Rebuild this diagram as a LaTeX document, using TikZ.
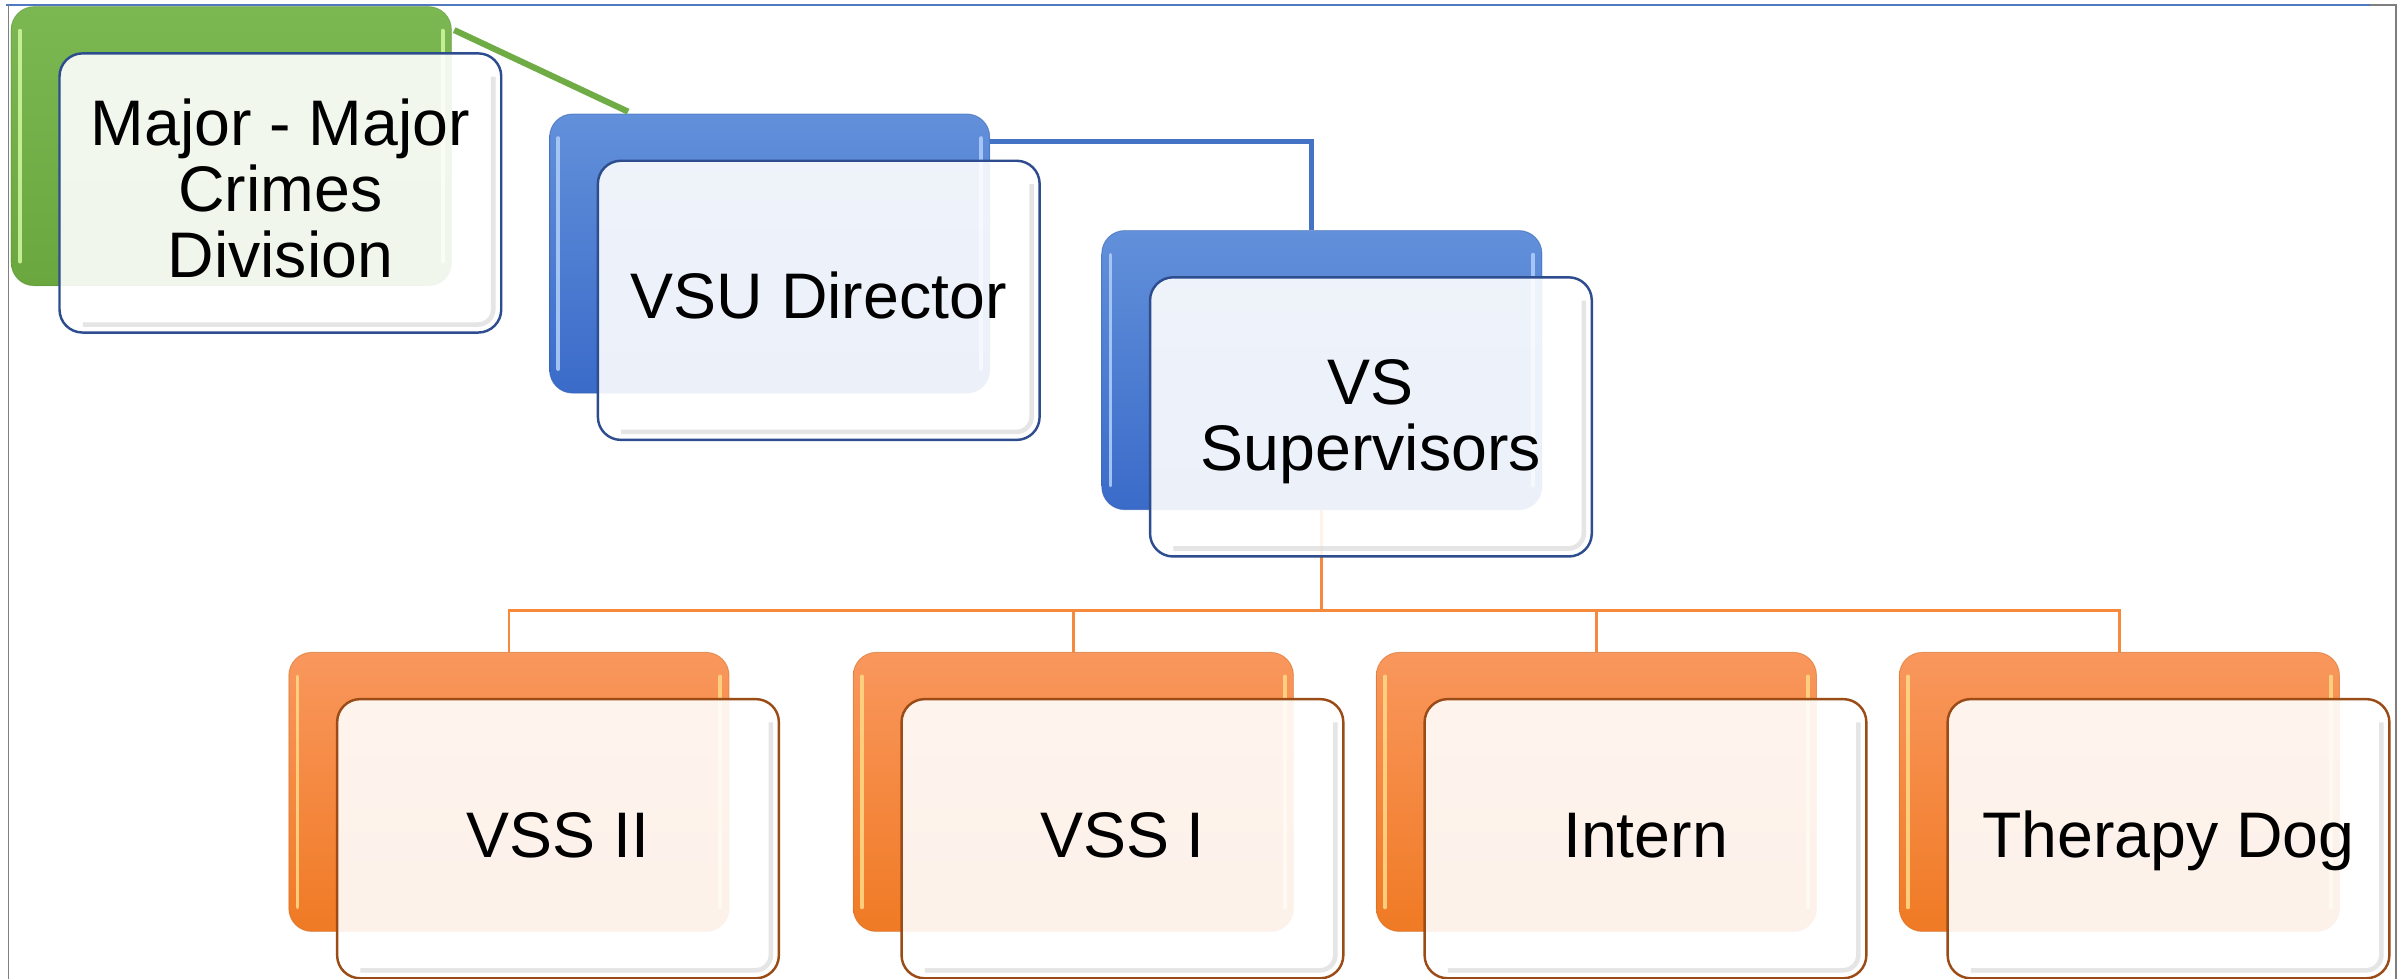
\documentclass[tikz,border=0pt]{standalone}
\usepackage{fontspec}
\setmainfont{Liberation Sans}
\usetikzlibrary{calc}
\definecolor{grnT}{HTML}{7CB852}
\definecolor{grnB}{HTML}{6AA73E}
\definecolor{grnHL}{HTML}{CDF59E}
\definecolor{bluT}{HTML}{6290DA}
\definecolor{bluB}{HTML}{3A6BC9}
\definecolor{bluHL}{HTML}{ADCCF8}
\definecolor{orgT}{HTML}{F9975D}
\definecolor{orgB}{HTML}{F07A24}
\definecolor{orgHL}{HTML}{FFD684}
\definecolor{frontblue}{HTML}{2D4D8E}
\definecolor{frontbrown}{HTML}{9A4B16}
\definecolor{cgreen}{HTML}{6FAC46}
\definecolor{cblue}{HTML}{4472C4}
\definecolor{corange}{HTML}{F7893C}
\definecolor{framebl}{HTML}{5079BF}
\definecolor{framegr}{HTML}{7F7F7F}
\newcommand\hlback[3]{%
  \draw[hlstyle,#2] ($(#1.north west)+(6,-16)$) -- ($(#1.south west)+(6,16)$);
  \draw[hlstyle,#3] ($(#1.north east)+(-6,-16)$) -- ($(#1.south east)+(-6,16)$);
}
\newcommand\rimfront[1]{%
  \draw[rim] ($(#1.north east)+(-6,-16)$) -- ($(#1.south east)+(-6,6)$) -- ($(#1.south west)+(16,6)$);
}
\begin{document}
\begin{tikzpicture}[x=1pt,y=1pt,
  backbox/.style={rectangle, rounded corners=15pt, minimum width=287pt, minimum height=182pt,
    anchor=north west, inner sep=0pt, line width=0.6pt},
  greenback/.style={backbox, top color=grnT, bottom color=grnB, draw=grnB!85!black, draw opacity=0.5},
  blueback/.style={backbox, top color=bluT, bottom color=bluB, draw=bluB!85!black, draw opacity=0.5},
  orangeback/.style={backbox, top color=orgT, bottom color=orgB, draw=orgB!85!black, draw opacity=0.5},
  hlstyle/.style={line width=2.4pt, opacity=0.9, line cap=round},
  frontbox/.style={rectangle, rounded corners=15pt, minimum width=288pt, minimum height=182pt,
    anchor=north west, inner sep=0pt, fill=white, fill opacity=0.9, text opacity=1,
    line width=1.6pt, font=\fontsize{42}{43}\selectfont},
  bluefront/.style={frontbox, draw=frontblue},
  orangefront/.style={frontbox, draw=frontbrown},
  oneline/.style={text height=27pt, text depth=3pt},
  multiline/.style={align=center},
  rim/.style={draw=black!13, line width=3pt, opacity=0.8, rounded corners=10pt},
  gline/.style={draw=cgreen, line width=4pt},
  bline/.style={draw=cblue, line width=3pt},
  oline/.style={draw=corange, line width=1.8pt},
  framet/.style={draw=framebl, line width=1.2pt},
  frameg/.style={draw=framegr, line width=1.2pt}
]
\useasboundingbox (0,0) rectangle (1568,-638);
% frame
\draw[framet] (4,-3.5) -- (1545,-3.5);
\draw[frameg] (1545,-3.5) -- (1562,-3.5) -- (1562,-638);
\draw[frameg] (5.5,-3.5) -- (5.5,-638);

% back boxes
\node[greenback] (gb) at (7,-4) {};
\node[blueback] (vb1) at (358,-74) {};
\node[blueback] (vb2) at (718,-150) {};
\node[orangeback] (ob1) at (188,-425) {};
\node[orangeback] (ob2) at (556,-425) {};
\node[orangeback] (ob3) at (897,-425) {};
\node[orangeback] (ob4) at (1238,-425) {};
\hlback{gb}{grnHL}{grnHL}
\hlback{vb1}{bluHL}{bluHL}
\hlback{vb2}{bluHL}{bluHL}
\hlback{ob1}{orgHL}{orgHL}
\hlback{ob2}{orgHL}{orgHL}
\hlback{ob3}{orgHL}{orgHL}
\hlback{ob4}{orgHL}{orgHL}

% connectors
\coordinate (gstart) at ($(gb.north east)+(1.5,-15.6)$);
\coordinate (gend) at ($(vb1.north west)+(51.5,1.2)$);
\draw[gline] (gstart) -- (gend);
\coordinate (bstart) at ($(vb1.north east)+(0,-18.4)$);
\coordinate (bend) at ($(vb2.north west)+(137,0)$);
\draw[bline] (bstart) -| (bend);
\coordinate (bus) at (0,-398);
\draw[oline] (vb2.south) -- (vb2.south |- bus) -| (ob1.north);
\draw[oline] (vb2.south) -- (vb2.south |- bus) -| (ob2.north);
\draw[oline] (vb2.south) -- (vb2.south |- bus) -| (ob3.north);
\draw[oline] (vb2.south) -- (vb2.south |- bus) -| (ob4.north);

% front boxes
\node[bluefront, multiline] (gf) at (38,-34) {Major - Major\\Crimes\\Division\rule[-6pt]{0pt}{6pt}};
\node[bluefront, oneline] (vf1) at (389,-104) {VSU Director};
\node[bluefront, multiline] (vf2) at (749,-180) {\rule{0pt}{35pt}VS\\Supervisors};
\node[orangefront, oneline] (of1) at (219,-455) {VSS II};
\node[orangefront, oneline] (of2) at (587,-455) {VSS I};
\node[orangefront, oneline] (of3) at (928,-455) {Intern};
\node[orangefront, oneline] (of4) at (1269,-455) {Therapy Dog};
\rimfront{gf}
\rimfront{vf1}
\rimfront{vf2}
\rimfront{of1}
\rimfront{of2}
\rimfront{of3}
\rimfront{of4}
\end{tikzpicture}
\end{document}
